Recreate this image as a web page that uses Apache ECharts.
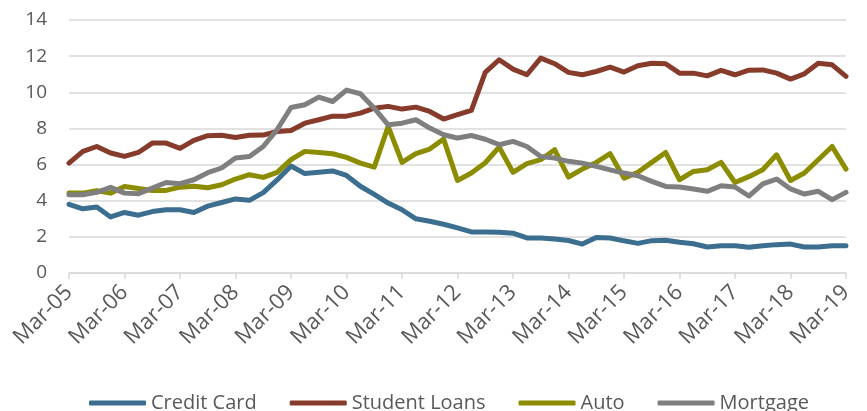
<!DOCTYPE html>
<html>
<head>
<meta charset="utf-8">
<script src="https://cdn.jsdelivr.net/npm/echarts@6/dist/echarts.min.js"></script>
<style>
  html, body { margin: 0; padding: 0; background: #fff; }
  #chart { width: 867px; height: 411px; }
</style>
</head>
<body>
<div id="chart"></div>
<script>
// quarterly, Mar-05 .. Mar-19
const quarters = (function () {
  const out = [];
  const months = ['Mar', 'Jun', 'Sep', 'Dec'];
  for (let y = 5; y <= 19; y++) {
    for (let q = 0; q < 4; q++) {
      if (y === 19 && q > 0) break;
      out.push(months[q] + '-' + (y < 10 ? '0' + y : y));
    }
  }
  return out;
})();

const creditCard = [
  3.8, 3.55, 3.65, 3.1, 3.35, 3.2, 3.4, 3.5, 3.5, 3.35,
  3.7, 3.9, 4.1, 4.02, 4.45, 5.15, 5.92, 5.5, 5.58, 5.65,
  5.4, 4.8, 4.35, 3.87, 3.5, 3.0, 2.86, 2.7, 2.5, 2.27,
  2.27, 2.25, 2.2, 1.94, 1.94, 1.88, 1.8, 1.6, 1.97, 1.94,
  1.78, 1.64, 1.79, 1.81, 1.7, 1.62, 1.44, 1.51, 1.51, 1.43,
  1.51, 1.57, 1.6, 1.44, 1.44, 1.51, 1.51
];
const studentLoans = [
  6.08, 6.73, 7.0, 6.64, 6.45, 6.67, 7.19, 7.19, 6.9, 7.34,
  7.6, 7.62, 7.5, 7.62, 7.63, 7.83, 7.89, 8.29, 8.48, 8.68,
  8.68, 8.85, 9.12, 9.22, 9.07, 9.18, 8.94, 8.52, 8.76, 9.0,
  11.1, 11.8, 11.28, 10.97, 11.89, 11.58, 11.1, 10.97, 11.15, 11.39,
  11.12, 11.47, 11.61, 11.58, 11.06, 11.06, 10.91, 11.21, 10.97, 11.22,
  11.24, 11.06, 10.73, 11.02, 11.61, 11.52, 10.88
];
const auto = [
  4.42, 4.42, 4.55, 4.42, 4.79, 4.68, 4.57, 4.57, 4.75, 4.8,
  4.72, 4.88, 5.2, 5.44, 5.29, 5.57, 6.27, 6.73, 6.67, 6.6,
  6.4, 6.08, 5.86, 8.11, 6.12, 6.6, 6.86, 7.41, 5.12, 5.53,
  6.1, 6.97, 5.57, 6.05, 6.27, 6.82, 5.31, 5.75, 6.12, 6.6,
  5.25, 5.57, 6.12, 6.67, 5.16, 5.62, 5.71, 6.12, 5.01, 5.33,
  5.71, 6.54, 5.12, 5.53, 6.27, 7.0, 5.75
];
const mortgage = [
  4.33, 4.33, 4.46, 4.74, 4.42, 4.39, 4.7, 5.01, 4.94, 5.16,
  5.55, 5.81, 6.36, 6.45, 7.0, 7.93, 9.16, 9.31, 9.73, 9.49,
  10.12, 9.92, 9.12, 8.2, 8.29, 8.48, 8.02, 7.65, 7.47, 7.61,
  7.4, 7.1, 7.28, 7.0, 6.45, 6.36, 6.18, 6.08, 5.9, 5.71,
  5.53, 5.38, 5.07, 4.79, 4.76, 4.65, 4.52, 4.83, 4.76, 4.26,
  4.93, 5.2, 4.65, 4.37, 4.52, 4.06, 4.46
];

const seriesNames = ['Credit Card', 'Student Loans', 'Auto', 'Mortgage'];
const seriesColors = ['#3c6e8f', '#873b2b', '#8c8c00', '#7f7f7f'];
const seriesData = [creditCard, studentLoans, auto, mortgage];

const font = '"Open Sans", "Liberation Sans", sans-serif';

const option = {
  animation: false,
  backgroundColor: '#ffffff',
  grid: {
    left: 69,
    right: 21,
    top: 20,
    bottom: 138
  },
  legend: {
    top: 388,
    left: 84,
    icon: 'roundRect',
    itemWidth: 57,
    itemHeight: 5,
    itemGap: 33,
    textStyle: {
      fontFamily: font,
      fontSize: 20,
      color: '#595959'
    },
    data: seriesNames
  },
  xAxis: {
    type: 'category',
    boundaryGap: false,
    data: quarters,
    axisLine: {
      lineStyle: { color: '#d9d9d9', width: 1.5 }
    },
    axisTick: {
      show: true,
      interval: 3,
      length: 6,
      lineStyle: { color: '#d9d9d9', width: 1.5 }
    },
    axisLabel: {
      interval: 3,
      rotate: 45,
      margin: 16,
      fontFamily: font,
      fontSize: 22,
      color: '#595959'
    },
    splitLine: { show: false }
  },
  yAxis: {
    type: 'value',
    min: 0,
    max: 14,
    interval: 2,
    axisLine: { show: false },
    axisTick: { show: false },
    axisLabel: {
      margin: 22,
      fontFamily: font,
      fontSize: 19,
      color: '#595959'
    },
    splitLine: {
      lineStyle: { color: '#d9d9d9', width: 1.5 }
    }
  },
  series: seriesNames.map(function (name, i) {
    return {
      name: name,
      type: 'line',
      data: seriesData[i],
      symbol: 'none',
      smooth: false,
      color: seriesColors[i],
      lineStyle: { width: 5, color: seriesColors[i], cap: 'round', join: 'round' }
    };
  })
};

const myChart = echarts.init(document.getElementById('chart'));
myChart.setOption(option);
</script>
</body>
</html>
